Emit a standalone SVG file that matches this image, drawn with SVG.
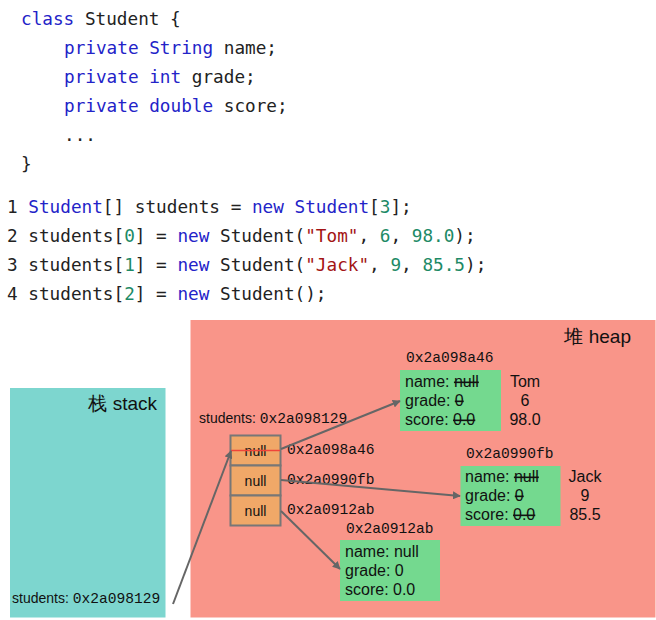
<svg xmlns="http://www.w3.org/2000/svg" width="656" height="620" viewBox="0 0 656 620">
<style>
.code{font-family:"DejaVu Sans Mono","Liberation Mono",monospace;font-size:17.7px;fill:#222}
.kw{fill:#2323c8}
.str{fill:#a31515}
.num{fill:#1d8a66}
.sans{font-family:"Liberation Sans",Arial,sans-serif;fill:#111}
.mono{font-family:"Liberation Mono","DejaVu Sans Mono",monospace;fill:#111}
.lbl{font-size:14px}
.mlbl{font-size:14.6px}
.fld{font-family:"Liberation Sans",Arial,sans-serif;font-size:16px;fill:#111}
.strike{text-decoration:line-through}
.green{fill:#74d98f}
.cell{fill:#f0a868;stroke:#777;stroke-width:2}
.conn{stroke:#666;stroke-width:2;fill:none;marker-end:url(#ah)}
</style>
<defs>
<marker id="ah" viewBox="0 0 10 10" refX="9" refY="5" markerWidth="8" markerHeight="8" orient="auto" markerUnits="userSpaceOnUse">
<path d="M0,0 L10,5 L0,10 z" fill="#666"/>
</marker>
</defs>
<rect width="656" height="620" fill="#fff"/>
<g id="code-class" xml:space="preserve">
<text class="code" x="21" y="25"><tspan class="kw">class</tspan> Student {</text>
<text class="code" x="64" y="54"><tspan class="kw">private String</tspan> name;</text>
<text class="code" x="64" y="83"><tspan class="kw">private int</tspan> grade;</text>
<text class="code" x="64" y="112"><tspan class="kw">private double</tspan> score;</text>
<text class="code" x="64" y="141">...</text>
<text class="code" x="21" y="170">}</text>
</g>
<g id="code-main" xml:space="preserve">
<text class="code" x="7" y="213">1 <tspan class="kw">Student</tspan>[] students = <tspan class="kw">new</tspan> <tspan class="kw">Student</tspan>[<tspan class="num">3</tspan>];</text>
<text class="code" x="7" y="242">2 students[<tspan class="num">0</tspan>] = <tspan class="kw">new</tspan> Student(<tspan class="str">"Tom"</tspan>, <tspan class="num">6</tspan>, <tspan class="num">98.0</tspan>);</text>
<text class="code" x="7" y="271">3 students[<tspan class="num">1</tspan>] = <tspan class="kw">new</tspan> Student(<tspan class="str">"Jack"</tspan>, <tspan class="num">9</tspan>, <tspan class="num">85.5</tspan>);</text>
<text class="code" x="7" y="300">4 students[<tspan class="num">2</tspan>] = <tspan class="kw">new</tspan> Student();</text>
</g>
<g id="stack">
<rect x="10" y="388" width="155.5" height="229.5" fill="#7dd6cf"/>
<text class="sans" x="157" y="410" font-size="19" text-anchor="end">栈 stack</text>
<text class="sans lbl" x="12" y="603">students: <tspan class="mono mlbl">0x2a098129</tspan></text>
</g>
<g id="heap">
<rect x="190.5" y="320" width="465" height="297.5" fill="#f99589"/>
<text class="sans" x="631" y="343" font-size="19" text-anchor="end">堆 heap</text>
</g>
<g id="array">
<text class="sans lbl" x="199" y="423">students: <tspan class="mono mlbl">0x2a098129</tspan></text>
<rect class="cell" x="230.5" y="435.5" width="50" height="30"/>
<rect class="cell" x="230.5" y="465.5" width="50" height="30"/>
<rect class="cell" x="230.5" y="495.5" width="50" height="30"/>
<text class="sans lbl" x="255.5" y="456" text-anchor="middle">null</text>
<text class="sans lbl" x="255.5" y="486" text-anchor="middle">null</text>
<text class="sans lbl" x="255.5" y="516" text-anchor="middle">null</text>
<line x1="231" y1="450.5" x2="280" y2="450.5" stroke="#f0443a" stroke-width="1.6"/>
<text class="mono mlbl" x="287" y="454">0x2a098a46</text>
<text class="mono mlbl" x="287" y="484">0x2a0990fb</text>
<text class="mono mlbl" x="287" y="514">0x2a0912ab</text>
</g>
<g id="obj-tom">
<text class="mono mlbl" x="406" y="362">0x2a098a46</text>
<rect class="green" x="400" y="370" width="101" height="61"/>
<text class="fld" x="405" y="387">name: <tspan class="strike">null</tspan></text>
<text class="fld" x="405" y="406">grade: <tspan class="strike">0</tspan></text>
<text class="fld" x="405" y="425">score: <tspan class="strike">0.0</tspan></text>
<text class="fld" x="525" y="387" font-size="14.5" text-anchor="middle">Tom</text>
<text class="fld" x="525" y="406" font-size="14.5" text-anchor="middle">6</text>
<text class="fld" x="525" y="425" font-size="14.5" text-anchor="middle">98.0</text>
</g>
<g id="obj-jack">
<text class="mono mlbl" x="466" y="458">0x2a0990fb</text>
<rect class="green" x="460.5" y="466" width="100" height="60"/>
<text class="fld" x="465" y="482">name: <tspan class="strike">null</tspan></text>
<text class="fld" x="465" y="501">grade: <tspan class="strike">0</tspan></text>
<text class="fld" x="465" y="520">score: <tspan class="strike">0.0</tspan></text>
<text class="fld" x="585" y="482" font-size="14.5" text-anchor="middle">Jack</text>
<text class="fld" x="585" y="501" font-size="14.5" text-anchor="middle">9</text>
<text class="fld" x="585" y="520" font-size="14.5" text-anchor="middle">85.5</text>
</g>
<g id="obj-empty">
<text class="mono mlbl" x="346" y="533">0x2a0912ab</text>
<rect class="green" x="340" y="540" width="100" height="61"/>
<text class="fld" x="345" y="557">name: null</text>
<text class="fld" x="345" y="576">grade: 0</text>
<text class="fld" x="345" y="595">score: 0.0</text>
</g>
<g id="connectors">
<line class="conn" x1="173" y1="604" x2="231" y2="451"/>
<line class="conn" x1="281" y1="449" x2="400" y2="401"/>
<line class="conn" x1="281" y1="480" x2="460" y2="496"/>
<line class="conn" x1="281" y1="511" x2="340" y2="569"/>
</g>
</svg>
